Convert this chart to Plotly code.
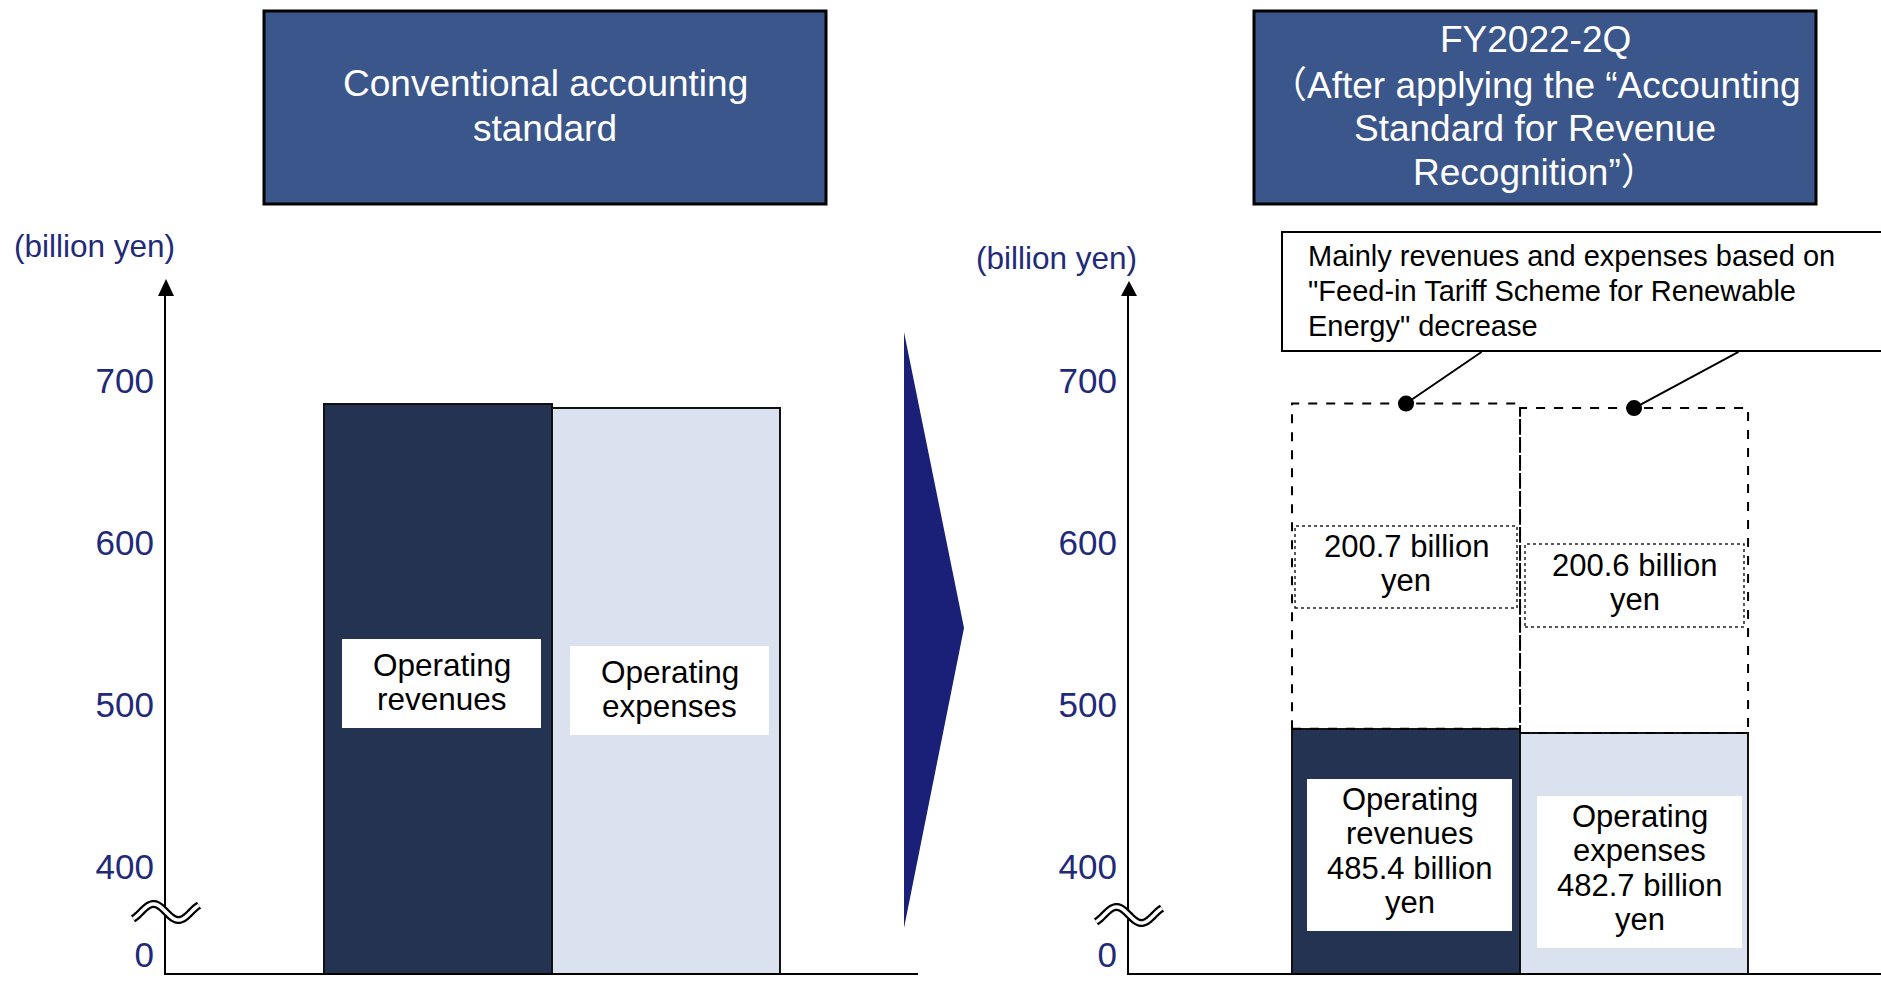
import numpy as np
import plotly.graph_objects as go

# ---------------------------------------------------------------- data
categories = ["Operating revenues", "Operating expenses"]
after_values = [485.4, 482.7]        # FY2022-2Q, after the revenue recognition standard
decrease_values = [200.7, 200.6]     # FIT-related revenues / expenses removed
before_values = [round(a + d, 1) for a, d in zip(after_values, decrease_values)]
tick_values = [400, 500, 600, 700]

# ---------------------------------------------------------------- layout geometry (pixels)
W, H = 1881, 975
PLOT_TOP, PLOT_BOTTOM = 295, 973
LEFT_X0, LEFT_X1 = 166, 918
RIGHT_X0, RIGHT_X1 = 1129, 1881
Y_LO, Y_HI = 334.6, 753.1
XL_RANGE = [-1.193, 2.105]
XR_RANGE = [-1.215, 2.083]
PX_PER_UNIT = (PLOT_BOTTOM - PLOT_TOP) / (Y_HI - Y_LO)
ZERO_LABEL_PX = 955          # where the "0" of the broken axis is written

FONT = "Liberation Sans, Arial, Noto Sans CJK JP, sans-serif"
NAVY = "#253352"
LIGHT = "#DBE2EF"
TITLE_FILL = "#3B568A"
ARROW_FILL = "#1A1F77"
AXIS_TEXT = "#1F2A78"
bar_colors = [NAVY, LIGHT]


def fx(p):
    return p / W


def fy(p):
    return 1 - p / H


def x2_of(p):
    return XR_RANGE[0] + (p - RIGHT_X0) / (RIGHT_X1 - RIGHT_X0) * (XR_RANGE[1] - XR_RANGE[0])


def y_of(p):
    return Y_LO + (PLOT_BOTTOM - p) / PX_PER_UNIT


fig = go.Figure()

# conventional standard: full revenues / expenses
fig.add_trace(go.Bar(
    x=categories, y=before_values, width=1, xaxis="x", yaxis="y",
    marker=dict(color=bar_colors, line=dict(color="#111111", width=2)),
    hoverinfo="skip",
))
# after applying the new standard
fig.add_trace(go.Bar(
    x=categories, y=after_values, width=1, xaxis="x2", yaxis="y2",
    marker=dict(color=bar_colors, line=dict(color="#111111", width=2)),
    hoverinfo="skip",
))
# anchor dots on the removed portion
fig.add_trace(go.Scatter(
    x=categories, y=before_values, xaxis="x2", yaxis="y2", mode="markers",
    marker=dict(size=16, color="black"), cliponaxis=False, hoverinfo="skip",
))

shapes = []
annotations = []


def rect_px(x0, y0, x1, y1, **kw):
    shapes.append(dict(type="rect", xref="paper", yref="paper",
                       x0=fx(x0), x1=fx(x1), y0=fy(y1), y1=fy(y0), layer="above", **kw))


def text_lines(lines, cx, ys, size, color="black", xanchor="center"):
    for s, y in zip(lines, ys):
        annotations.append(dict(
            xref="paper", yref="paper", x=fx(cx), y=fy(y), text=s, showarrow=False,
            xanchor=xanchor, yanchor="middle",
            font=dict(family=FONT, size=size, color=color),
        ))


# header boxes
rect_px(264, 11, 826, 204, fillcolor=TITLE_FILL, line=dict(color="black", width=3))
text_lines(["Conventional accounting", "standard"], 545, [84, 128], 37, "white")
rect_px(1254, 11, 1816, 204, fillcolor=TITLE_FILL, line=dict(color="black", width=3))
text_lines(["FY2022-2Q", "\uff08After applying the \u201cAccounting",
            "Standard for Revenue", "Recognition\u201d\uff09"],
           1535, [40, 85, 128, 173], 37, "white")

# unit labels
text_lines(["(billion yen)"], 94, [246], 31.5, AXIS_TEXT)
text_lines(["(billion yen)"], 1056, [258], 31.5, AXIS_TEXT)

# transition chevron
shapes.append(dict(type="path", xref="paper", yref="paper", layer="above",
                   path=f"M {fx(904)},{fy(332)} L {fx(964)},{fy(628)} L {fx(904)},{fy(928)} Z",
                   fillcolor=ARROW_FILL, line=dict(width=0)))

# arrowheads on the value axes
for ax_x, tip in [(LEFT_X0, 279), (RIGHT_X0, 281)]:
    shapes.append(dict(type="path", xref="paper", yref="paper", layer="above",
                       path=(f"M {fx(ax_x - 8)},{fy(PLOT_TOP + 1)} L {fx(ax_x)},{fy(tip)} "
                             f"L {fx(ax_x + 8)},{fy(PLOT_TOP + 1)} Z"),
                       fillcolor="black", line=dict(width=0)))


# axis break marks
def wave_path(cx, cy):
    xs = np.linspace(-33, 33, 48)
    pts = [(cx + x, cy + 8 * np.sin(2 * np.pi * x / 50)) for x in xs]
    return "M " + " L ".join(f"{fx(a):.5f},{fy(b):.5f}" for a, b in pts)


for cx, cy in [(LEFT_X0, 912), (RIGHT_X0, 915)]:
    p = wave_path(cx, cy)
    shapes.append(dict(type="path", xref="paper", yref="paper", layer="above",
                       path=p, line=dict(color="black", width=8)))
    shapes.append(dict(type="path", xref="paper", yref="paper", layer="above",
                       path=p, line=dict(color="white", width=3.5)))

# dashed outline of the removed amounts
for i in range(len(categories)):
    shapes.append(dict(type="rect", xref="x2", yref="y2", layer="above",
                       x0=i - 0.5, x1=i + 0.5, y0=after_values[i], y1=before_values[i],
                       line=dict(color="black", width=2, dash="dash")))

# labels inside the conventional bars
rect_px(342, 639, 541, 728, fillcolor="white", line=dict(width=0))
text_lines(["Operating", "revenues"], 441.5, [665, 699], 31.5)
rect_px(570, 646, 769, 735, fillcolor="white", line=dict(width=0))
text_lines(["Operating", "expenses"], 669.5, [672, 706], 31.5)

# labels inside the new-standard bars
rect_px(1307, 779, 1512, 931, fillcolor="white", line=dict(width=0))
text_lines(["Operating", "revenues", f"{after_values[0]:.1f} billion", "yen"],
           1409.5, [799, 833, 868, 902], 31)
rect_px(1537, 796, 1742, 948, fillcolor="white", line=dict(width=0))
text_lines(["Operating", "expenses", f"{after_values[1]:.1f} billion", "yen"],
           1639.5, [816, 850, 885, 919], 31)

# labels of the removed amounts
rect_px(1295, 526, 1517, 608, fillcolor="white", line=dict(color="#222222", width=1.5, dash="dot"))
text_lines([f"{decrease_values[0]:.1f} billion", "yen"], 1406, [546, 580], 31)
rect_px(1525, 544, 1744, 627, fillcolor="white", line=dict(color="#222222", width=1.5, dash="dot"))
text_lines([f"{decrease_values[1]:.1f} billion", "yen"], 1634.5, [565, 599], 31)

# callout box, open on the right where it runs off the page
shapes.append(dict(type="path", xref="paper", yref="paper", layer="above",
                   path=(f"M 1,{fy(232)} L {fx(1282)},{fy(232)} L {fx(1282)},{fy(351)} "
                         f"L 1,{fy(351)}"),
                   fillcolor="white", line=dict(color="black", width=2)))
text_lines(["Mainly revenues and expenses based on",
            "\"Feed-in Tariff Scheme for Renewable",
            "Energy\" decrease"], 1306, [256, 291, 326], 29, xanchor="left")
for i, tail_px in enumerate([1483, 1740]):
    annotations.append(dict(
        xref="x2", yref="y2", x=i, y=before_values[i], text="",
        axref="x2", ayref="y2", ax=x2_of(tail_px), ay=y_of(351),
        showarrow=True, arrowhead=0, arrowwidth=2, arrowcolor="black",
        standoff=0, startstandoff=0,
    ))

yaxis_common = dict(
    range=[Y_LO, Y_HI], domain=[fy(PLOT_BOTTOM), fy(PLOT_TOP)],
    showgrid=False, zeroline=False, showline=True, linecolor="black", linewidth=2,
    tickvals=[y_of(ZERO_LABEL_PX)] + tick_values,
    ticktext=["0"] + [str(v) for v in tick_values],
    ticks="", ticklabelstandoff=3, ticklabeloverflow="allow",
    tickfont=dict(family=FONT, size=35, color=AXIS_TEXT),
)
xaxis_common = dict(
    showgrid=False, zeroline=False, showline=True, linecolor="black", linewidth=3,
    showticklabels=False, ticks="", type="category",
)

fig.update_layout(
    width=W, height=H, margin=dict(l=0, r=0, t=0, b=0),
    paper_bgcolor="white", plot_bgcolor="rgba(0,0,0,0)",
    showlegend=False, bargap=0,
    xaxis=dict(xaxis_common, domain=[fx(LEFT_X0), fx(LEFT_X1)], range=XL_RANGE, anchor="y"),
    yaxis=dict(yaxis_common, anchor="x"),
    xaxis2=dict(xaxis_common, domain=[fx(RIGHT_X0), 1.0], range=XR_RANGE, anchor="y2"),
    yaxis2=dict(yaxis_common, anchor="x2"),
    shapes=shapes,
    annotations=annotations,
)

fig.write_html("out.html", config={"displayModeBar": False})
